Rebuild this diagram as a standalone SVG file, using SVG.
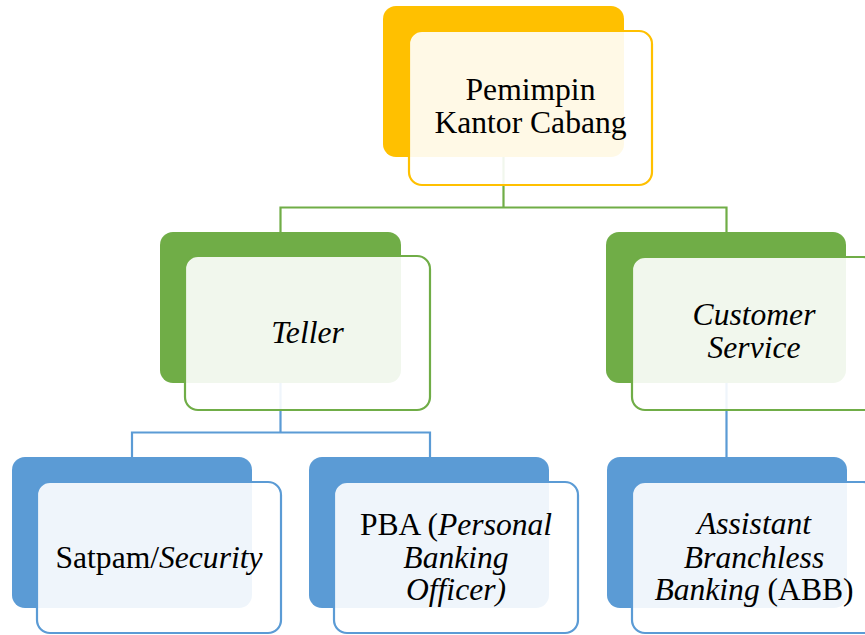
<svg xmlns="http://www.w3.org/2000/svg" width="865" height="635" viewBox="0 0 865 635">
<style>
.bk{stroke:none}
.fr{fill:#ffffff;fill-opacity:0.9;stroke-width:2.2}
.y .bk{fill:#FFC000}.y .fr{stroke:#FFC000}
.g .bk{fill:#70AD47}.g .fr{stroke:#70AD47}
.b .bk{fill:#5B9BD5}.b .fr{stroke:#5B9BD5}
text{font-size:31.6px;fill:#000;text-anchor:middle}
.i{font-style:italic}
.cg{fill:none;stroke:#70AD47;stroke-width:2.2}
.cb{fill:none;stroke:#5B9BD5;stroke-width:2.2}
</style>
<rect width="865" height="635" fill="#ffffff"/>
<g id="connectors">
<path class="cg" d="M503.5,157 V207.5 M280.5,207.5 H726.5 M280.5,206.5 V232 M726.5,206.5 V232"/>
<path class="cb" d="M280.5,383 V432.5 M132,432.5 H430 M132,431.5 V457 M430,431.5 V457 M726.5,383 V457"/>
</g>
<g font-family="Liberation Serif, DejaVu Serif, Times New Roman, serif">
<g id="pimpinan" class="y">
<rect class="bk" x="383" y="6" width="241" height="151" rx="13"/>
<rect class="fr" x="409" y="31" width="243" height="154" rx="13"/>
<text x="530.5" y="100">Pemimpin</text>
<text x="530.5" y="133">Kantor Cabang</text>
</g>
<g id="teller" class="g">
<rect class="bk" x="160" y="232" width="241" height="151" rx="13"/>
<rect class="fr" x="185" y="256" width="245" height="154" rx="13"/>
<text class="i" x="307.5" y="343">Teller</text>
</g>
<g id="customer-service" class="g">
<rect class="bk" x="606" y="232" width="240" height="151" rx="13"/>
<rect class="fr" x="632" y="257" width="244" height="153" rx="13"/>
<text class="i" x="754" y="325">Customer</text>
<text class="i" x="754" y="358">Service</text>
</g>
<g id="satpam" class="b">
<rect class="bk" x="12" y="457" width="240" height="151" rx="13"/>
<rect class="fr" x="37" y="482" width="244" height="151" rx="13"/>
<text x="159" y="568">Satpam/<tspan class="i">Security</tspan></text>
</g>
<g id="pba" class="b">
<rect class="bk" x="309" y="457" width="240" height="151" rx="13"/>
<rect class="fr" x="334" y="482" width="244" height="151" rx="13"/>
<text x="456" y="535">PBA (<tspan class="i">Personal</tspan></text>
<text class="i" x="456" y="568">Banking</text>
<text class="i" x="456" y="600">Officer)</text>
</g>
<g id="abb" class="b">
<rect class="bk" x="607" y="457" width="240" height="151" rx="13"/>
<rect class="fr" x="632" y="482" width="244" height="151" rx="13"/>
<text class="i" x="754" y="534">Assistant</text>
<text class="i" x="754" y="568">Branchless</text>
<text x="754" y="600"><tspan class="i">Banking</tspan> (ABB)</text>
</g>
</g>
</svg>
